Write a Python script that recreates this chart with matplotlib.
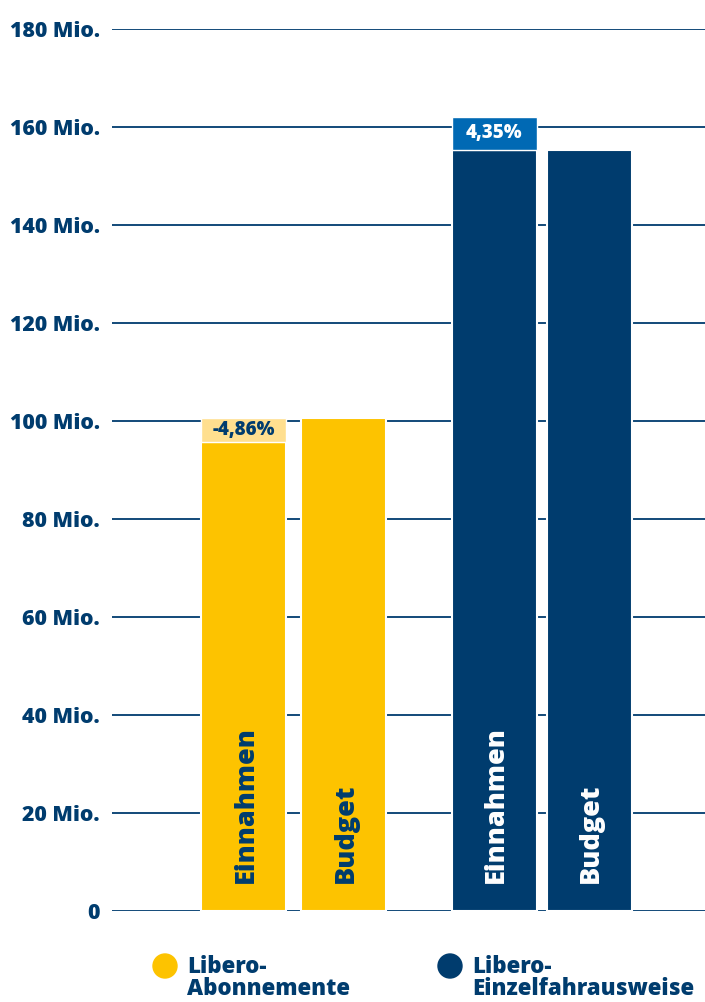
import matplotlib.pyplot as plt
from matplotlib.patches import Rectangle, Ellipse

# data (Mio.)
gruppen = ["Libero-\nAbonnemente", "Libero-\nEinzelfahrausweise"]
einnahmen = [95.7, 162.1]
budget = [100.6, 155.3]
abweichung = ["-4,86%", "4,35%"]
balken_text = ["Einnahmen", "Budget"]
y_ticks = [0, 20, 40, 60, 80, 100, 120, 140, 160, 180]
y_labels = ["0"] + [f"{v} Mio." for v in y_ticks[1:]]

navy = "#003c6e"
gelb = "#fdc300"
gelb_hell = "#ffdf8f"
blau_hell = "#0069b4"
haupt = [gelb, navy]
hell = [gelb_hell, blau_hell]
text_farbe = [navy, "white"]
pct_farbe = [navy, "white"]

plt.rcParams['font.family'] = ['Open Sans', 'DejaVu Sans']

fig = plt.figure(figsize=(7.05, 10.02), dpi=100)
ax = fig.add_axes([112/705, 91/1002, 593/705, 882/1002])
ax.set_xlim(-1.315, 4.615)
ax.set_ylim(0, 180)

pos = [(0, 1), (2.505, 3.455)]
breite = 0.85

for y in y_ticks:
    ax.axhline(y, color=navy, lw=1.3, zorder=1)

for i in range(2):
    xe, xb = pos[i]
    unten = min(einnahmen[i], budget[i])
    oben = max(einnahmen[i], budget[i])
    ax.bar(xe, unten, width=breite, color=haupt[i], edgecolor="white", lw=1.5, zorder=2)
    ax.bar(xb, budget[i], width=breite, color=haupt[i], edgecolor="white", lw=1.5, zorder=2)
    # difference box with label
    ax.add_patch(Rectangle((xe - breite/2, unten), breite, oben - unten,
                           facecolor=hell[i], edgecolor="white", lw=1.0, zorder=2))
    ax.text(xe, (unten + oben)/2, abweichung[i], ha="center", va="center",
            color=pct_farbe[i], fontsize=13.5, fontweight="heavy", zorder=3)
    for x, t in zip((xe, xb), balken_text):
        ax.text(x + 0.02, 5.7, t, rotation=90, ha="center", va="bottom", color=text_farbe[i],
                fontsize=19.5, fontweight="heavy", zorder=3)

ax.set_yticks(y_ticks)
ax.set_yticklabels(y_labels, fontsize=15.3, fontweight="heavy", color=navy)
ax.tick_params(axis="y", length=0, pad=9)
ax.set_xticks([])
for s in ax.spines.values():
    s.set_visible(False)

# legend
leg_x = [165/705, 450/705]
for i in range(2):
    fig.patches.append(Ellipse((leg_x[i], 1 - 966/1002), 24/705, 24/1002,
                               transform=fig.transFigure, color=haupt[i]))
    fig.text(leg_x[i] + 22/705, 1 - 955/1002, gruppen[i], ha="left", va="top",
             color=navy, fontsize=16, fontweight="heavy", linespacing=0.88)

fig.savefig("out.png", dpi=100)
